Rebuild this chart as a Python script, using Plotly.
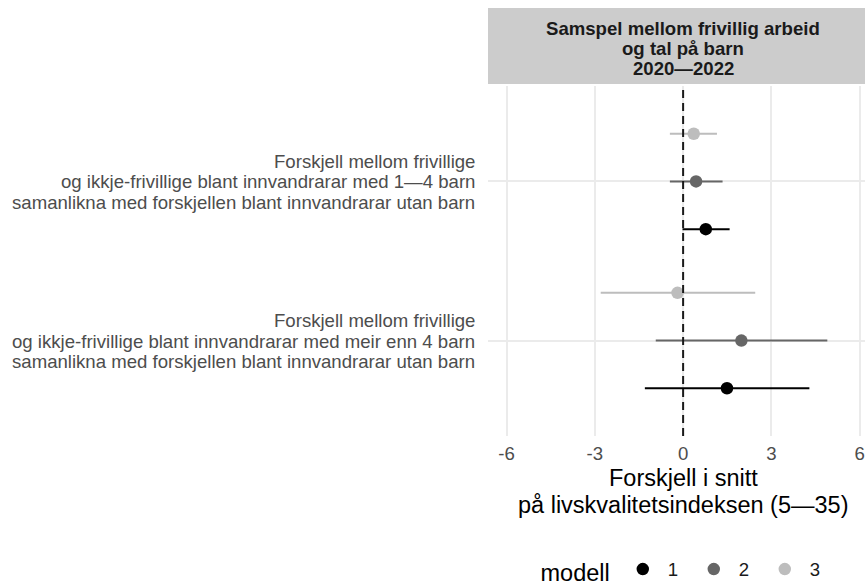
import plotly.graph_objects as go

# ---- data ----
category_lines = [
    ["Forskjell mellom frivillige",
     "og ikkje-frivillige blant innvandrarar med 1—4 barn",
     "samanlikna med forskjellen blant innvandrarar utan barn"],
    ["Forskjell mellom frivillige",
     "og ikkje-frivillige blant innvandrarar med meir enn 4 barn",
     "samanlikna med forskjellen blant innvandrarar utan barn"],
]
cat_pos = [2, 1]  # top, bottom
models = ["1", "2", "3"]
estimates = {
    "1": [0.77, 1.49],
    "2": [0.44, 1.98],
    "3": [0.36, -0.19],
}
lower = {
    "1": [-0.02, -1.30],
    "2": [-0.45, -0.93],
    "3": [-0.45, -2.80],
}
upper = {
    "1": [1.58, 4.29],
    "2": [1.34, 4.90],
    "3": [1.15, 2.45],
}
x_ticks = [-6, -3, 0, 3, 6]
strip_lines = ["Samspel mellom frivillig arbeid", "og tal på barn", "2020—2022"]
x_title_lines = ["Forskjell i snitt", "på livskvalitetsindeksen (5—35)"]
legend_title = "modell"

# ---- style ----
colors = {"1": "#000000", "2": "#666666", "3": "#bdbdbd"}
dodge = {"1": -0.3, "2": 0.0, "3": 0.3}
FONT = "Liberation Sans, Arial, sans-serif"
TXT = 18.6
TTL = 23.5

fig = go.Figure()
for m in models:
    ys = [p + dodge[m] for p in cat_pos]
    est = estimates[m]
    fig.add_trace(go.Scatter(
        x=est, y=ys, mode="markers", name=m,
        marker=dict(color=colors[m], size=12.5, line=dict(width=0)),
        error_x=dict(type="data", symmetric=False,
                     array=[u - e for u, e in zip(upper[m], est)],
                     arrayminus=[e - l for e, l in zip(est, lower[m])],
                     color=colors[m], thickness=2, width=0),
    ))

W, H = 865, 586
ml, mr, mt, mb = 488, 0, 86, 150
ph = H - mt - mb
bottom_px = H - mb


def py(p):
    return (bottom_px - p) / ph


fig.add_shape(type="line", xref="x", yref="paper", x0=0, x1=0, y0=0, y1=1,
              line=dict(color="#1a1a1a", width=2, dash="8px,5px"), layer="above")
fig.add_shape(type="rect", xref="paper", yref="paper", x0=0, x1=1,
              y0=py(84), y1=py(8),
              fillcolor="#cccccc", line=dict(width=0), layer="below")

for i, line in enumerate(strip_lines):
    fig.add_annotation(xref="x", yref="paper", x=0, y=py(28 + 20 * i),
                       text="<b>" + line + "</b>", showarrow=False, yanchor="middle",
                       font=dict(family=FONT, size=TXT, color="#1a1a1a"))

for lines, pos in zip(category_lines, cat_pos):
    for j, line in enumerate(lines):
        fig.add_annotation(xref="paper", yref="y", x=0, y=pos, xanchor="right",
                           yanchor="middle", xshift=-11, yshift=20 - 20.5 * j,
                           text=line, showarrow=False,
                           font=dict(family=FONT, size=TXT, color="#4d4d4d"))

for k, line in enumerate(x_title_lines):
    fig.add_annotation(xref="x", yref="paper", x=0, y=py(478 + 27 * k),
                       text=line, showarrow=False, yanchor="middle",
                       font=dict(family=FONT, size=TTL, color="#000000"))

fig.update_layout(
    width=W, height=H,
    margin=dict(l=ml, r=mr, t=mt, b=mb),
    paper_bgcolor="white", plot_bgcolor="white",
    font=dict(family=FONT),
    showlegend=True,
    legend=dict(orientation="h", xref="container", yref="container",
                x=0.6226, xanchor="left", y=(H - 571) / H, yanchor="middle",
                title=dict(text=legend_title, font=dict(size=TTL, color="#000000")),
                font=dict(size=TXT, color="#1a1a1a"), itemwidth=40,
                entrywidth=16, entrywidthmode="pixels"),
    xaxis=dict(range=[-6.63, 6.18], tickvals=x_ticks, ticktext=[str(t) for t in x_ticks],
               showgrid=True, gridcolor="#ebebeb", gridwidth=1.6, zeroline=False,
               showline=False, ticks="outside", ticklen=1, tickcolor="rgba(0,0,0,0)",
               tickfont=dict(size=TXT, color="#4d4d4d"), automargin=False),
    yaxis=dict(range=[0.4, 2.6], tickvals=cat_pos, showticklabels=False,
               showgrid=True, gridcolor="#ebebeb", gridwidth=1.6, zeroline=False,
               showline=False, ticks="", automargin=False),
)

fig.write_html("out.html", config={"displayModeBar": False},
               post_script="document.body.style.margin='0px';")
